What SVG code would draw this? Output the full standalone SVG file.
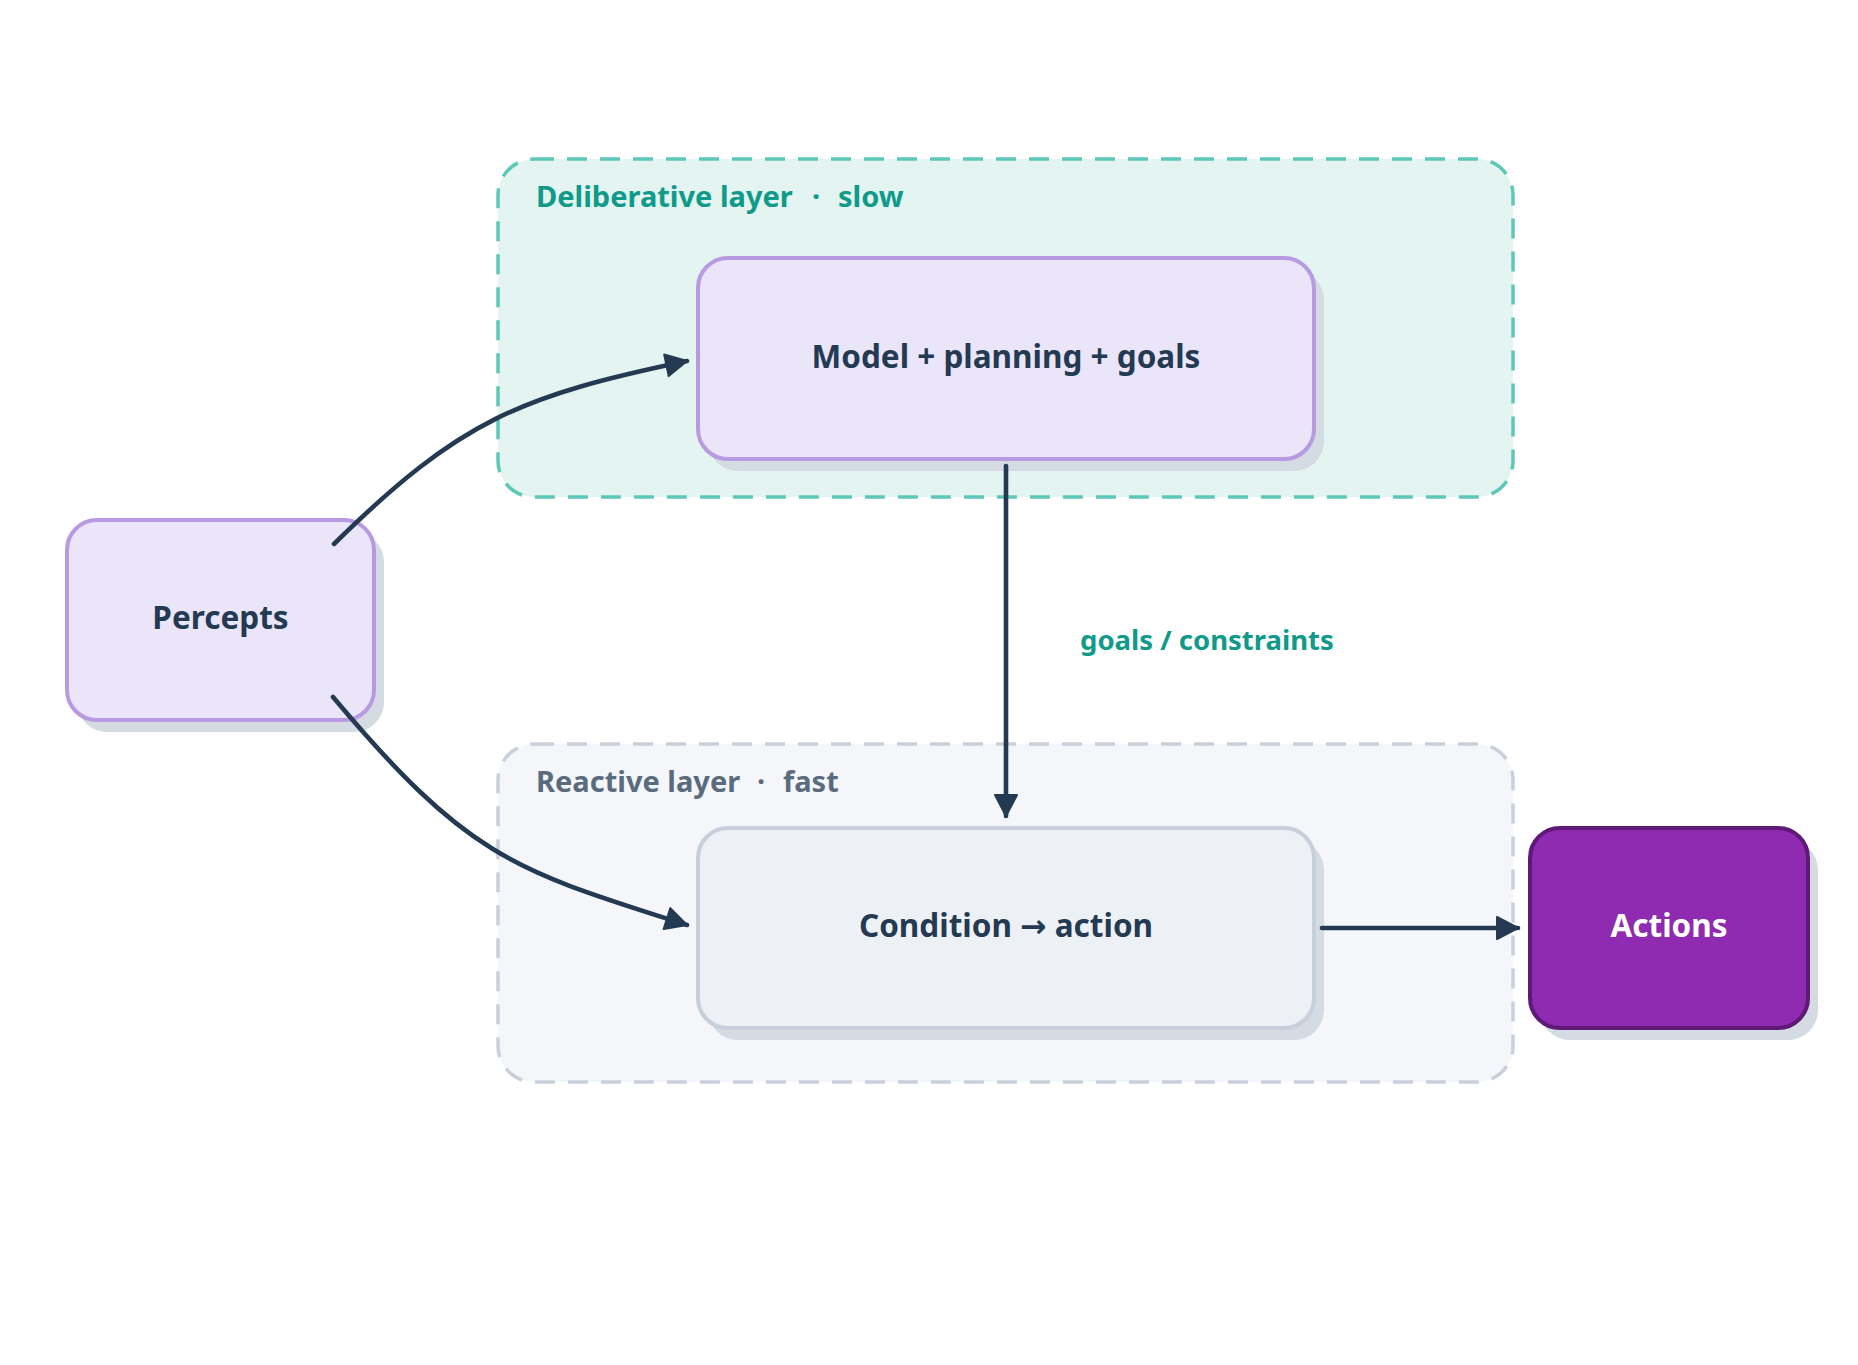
<svg xmlns="http://www.w3.org/2000/svg" width="1858" height="1365" viewBox="0 0 1858 1365">
<style>
  text { font-family: "Noto Sans", "Open Sans", "DejaVu Sans", sans-serif; font-weight: 700; }
  .node-text { font-size: 31.5px; fill: #243a52; text-anchor: middle; }
  .shadow { fill: #d4dbe3; }
  .lav { fill: #ebe5fa; stroke: #b89ae3; stroke-width: 4; }
  .gray { fill: #edf1f6; stroke: #c8cfda; stroke-width: 4; }
  .act { fill: #8e2bb0; stroke: #5f1a78; stroke-width: 4; }
  .cl-delib { fill: #e3f4f1; stroke: #5ec8b8; stroke-width: 3.5; stroke-dasharray: 20 13; }
  .cl-react { fill: #f4f6fa; stroke: #c9d0dc; stroke-width: 3.5; stroke-dasharray: 20 13; }
  .cl-label { font-size: 29px; }
  .edge { fill: none; stroke: #243a52; stroke-width: 4.6; stroke-linecap: round; marker-end: url(#arrow); }
  .edge-label { font-size: 27.5px; fill: #109a8a; }
</style>
<defs>
  <marker id="arrow" markerUnits="userSpaceOnUse" viewBox="0 0 26 26" markerWidth="26" markerHeight="26" refX="23" refY="13" orient="auto">
    <path d="M2,2 L23,13 L2,24 Z" fill="#243a52" stroke="#243a52" stroke-width="2" stroke-linejoin="round"/>
  </marker>
</defs>
<rect width="1858" height="1365" fill="#ffffff"/>

<g id="cluster-deliberative">
  <rect class="cl-delib" x="498" y="159" width="1015" height="338" rx="36"/>
  <text class="cl-label" fill="#109a8a" y="207"><tspan x="536">Deliberative layer</tspan><tspan x="812">·</tspan><tspan x="838">slow</tspan></text>
</g>
<g id="cluster-reactive">
  <rect class="cl-react" x="498" y="744" width="1015" height="338" rx="36"/>
  <text class="cl-label" fill="#5b6b7e" y="792"><tspan x="536">Reactive layer</tspan><tspan x="757">·</tspan><tspan x="783">fast</tspan></text>
</g>

<g id="node-model">
  <rect class="shadow" x="708" y="270" width="616" height="201" rx="30"/>
  <rect class="lav" x="698" y="258" width="616" height="201" rx="30"/>
  <text class="node-text" x="1006" y="368">Model + planning + goals</text>
</g>
<g id="node-percepts">
  <rect class="shadow" x="77" y="532" width="307" height="200" rx="30"/>
  <rect class="lav" x="67" y="520" width="307" height="200" rx="30"/>
  <text class="node-text" x="220.5" y="629">Percepts</text>
</g>
<g id="node-condition">
  <rect class="shadow" x="708" y="840" width="616" height="200" rx="30"/>
  <rect class="gray" x="698" y="828" width="616" height="200" rx="30"/>
  <text class="node-text" x="1006" y="937">Condition → action</text>
</g>
<g id="node-actions">
  <rect class="shadow" x="1540" y="840" width="278" height="200" rx="30"/>
  <rect class="act" x="1530" y="828" width="278" height="200" rx="30"/>
  <text class="node-text" x="1669" y="937" style="fill:#ffffff">Actions</text>
</g>

<g id="connectors">
  <path class="edge" d="M334,544 C460,420 520,396 687,361"/>
  <path class="edge" d="M333,697 C470,860 515,870 687,925"/>
  <path class="edge" d="M1006,466 L1006,816"/>
  <path class="edge" d="M1322,928 L1518,928"/>
  <text class="edge-label" x="1080" y="650">goals / constraints</text>
</g>
</svg>
